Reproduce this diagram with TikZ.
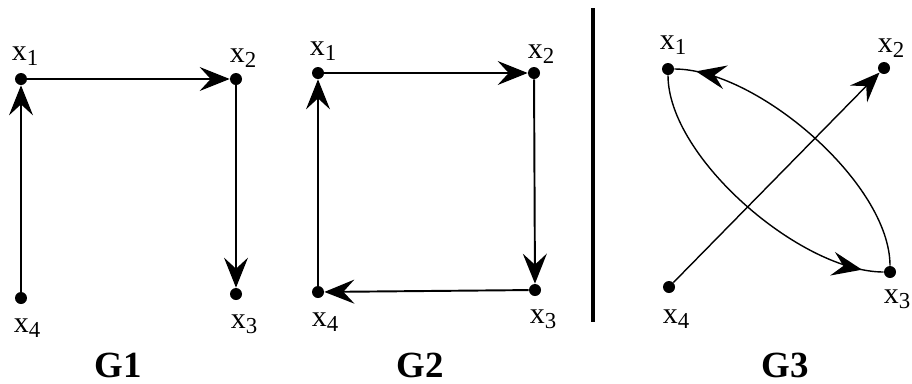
\documentclass[tikz,border=0pt]{standalone}
\usepackage{fontspec}
\setmainfont{Liberation Serif}
\usetikzlibrary{arrows.meta,decorations.markings}
\tikzset{
  vtx/.style={circle, fill=black, inner sep=0pt, minimum size=0.24cm},
  vlbl/.style={font=\fontsize{17}{19}\selectfont, inner sep=0pt},
  glbl/.style={font=\fontsize{21}{24}\selectfont\bfseries, inner sep=0pt},
  edge/.style={line width=1.1pt, -{Stealth[length=0.6cm, width=0.48cm, inset=0.22cm]}},
  loopedge/.style={line width=0.8pt, postaction={decorate},
    decoration={markings, mark=at position #1 with
      {\arrow{Stealth[length=0.6cm, width=0.48cm, inset=0.22cm]}}}},
}
\newcommand{\xv}[1]{x\raisebox{-2.8pt}{\fontsize{13}{15}\selectfont #1}}

\begin{document}
\begin{tikzpicture}[x=0.02cm, y=0.02cm]
    \useasboundingbox (0,0) rectangle (912,-383);
    % G1
    \node[vtx] (a1) at (21,-79)  {};
    \node[vtx] (a2) at (236,-79) {};
    \node[vtx] (a3) at (236,-294) {};
    \node[vtx] (a4) at (21,-298) {};
    \node[vlbl] at (25,-56)   {\xv{1}};
    \node[vlbl] at (243,-58)  {\xv{2}};
    \node[vlbl] at (244,-324) {\xv{3}};
    \node[vlbl] at (27,-328)  {\xv{4}};
    \draw[edge] (a1) -- (a2);
    \draw[edge] (a2) -- (a3);
    \draw[edge] (a4) -- (a1);
    \node[glbl] at (118,-365) {G1};
    % G2
    \node[vtx] (b1) at (318,-73) {};
    \node[vtx] (b2) at (534,-73) {};
    \node[vtx] (b3) at (535,-290) {};
    \node[vtx] (b4) at (318,-292) {};
    \node[vlbl] at (323,-51)  {\xv{1}};
    \node[vlbl] at (541,-54)  {\xv{2}};
    \node[vlbl] at (543,-319) {\xv{3}};
    \node[vlbl] at (325,-322) {\xv{4}};
    \draw[edge] (b1) -- (b2);
    \draw[edge] (b2) -- (b3);
    \draw[edge] (b3) -- (b4);
    \draw[edge] (b4) -- (b1);
    \node[glbl] at (420,-365) {G2};
    % separator
    \coordinate (bartop) at (593,-8);
    \coordinate (barbot) at (593,-322);
    \draw[line width=2.3pt] (bartop) -- (barbot);
    % G3
    \node[vtx] (c1) at (668,-69)  {};
    \node[vtx] (c2) at (884,-68)  {};
    \node[vtx] (c3) at (890,-272) {};
    \node[vtx] (c4) at (669,-287) {};
    \node[vlbl] at (673,-45)  {\xv{1}};
    \node[vlbl] at (891,-48)  {\xv{2}};
    \node[vlbl] at (897,-299) {\xv{3}};
    \node[vlbl] at (676,-319) {\xv{4}};
    \draw[edge, line width=0.8pt] (c4) -- (c2);
    \draw[loopedge=0.93] (c1) to[out=-90, in=180, looseness=0.72] (c3);
    \draw[loopedge=0.93] (c3) to[out=90, in=0, looseness=0.72] (c1);
    \node[glbl] at (785,-365) {G3};
\end{tikzpicture}
\end{document}
